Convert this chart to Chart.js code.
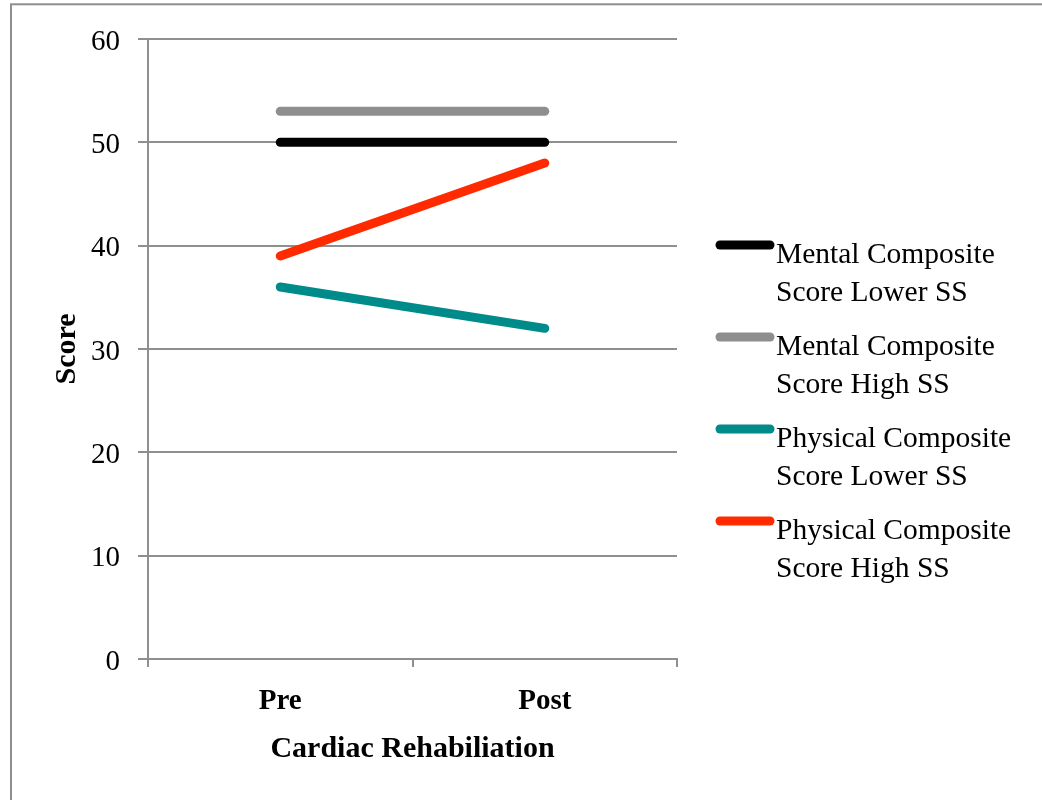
<!DOCTYPE html>
<html>
<head>
<meta charset="utf-8">
<script src="https://cdn.jsdelivr.net/npm/chart.js@4"></script>
<style>
  html, body { margin: 0; padding: 0; background: #fff; }
  #wrap { position: relative; width: 1042px; height: 800px; }
</style>
</head>
<body>
<div id="wrap"><canvas id="chart" width="1042" height="800"></canvas></div>
<script>
// Categories and score series
const categories = ['Pre', 'Post'];
const mentalLower = [50, 50];
const mentalHigh = [53, 53];
const physicalLower = [36, 32];
const physicalHigh = [39, 48];
const seriesLabels = [
  ['Mental Composite', 'Score Lower SS'],
  ['Mental Composite', 'Score High SS'],
  ['Physical Composite', 'Score Lower SS'],
  ['Physical Composite', 'Score High SS']
];
const seriesColors = ['#000000', '#8e8e8e', '#008b8b', '#ff2a00'];
const yTicks = [0, 10, 20, 30, 40, 50, 60];

const SERIF = '"Liberation Serif", "Times New Roman", serif';
const GRID = '#8f8f8f';

// Page frame and multi-line legend
const framePlugin = {
  id: 'frame',
  beforeDraw(chart) {
    const ctx = chart.ctx;
    ctx.save();
    ctx.fillStyle = '#fff';
    ctx.fillRect(0, 0, chart.width, chart.height);
    ctx.strokeStyle = GRID;
    ctx.lineWidth = 2;
    ctx.strokeRect(11, 4.3, chart.width + 20, chart.height + 20);
    ctx.restore();
  }
};

const legendPlugin = {
  id: 'multiLegend',
  afterDraw(chart) {
    const ctx = chart.ctx;
    const x0 = 720, x1 = 770, tx = 776;
    const startY = 245, step = 92, lineH = 38;
    ctx.save();
    chart.data.datasets.forEach((ds, i) => {
      const y = startY + i * step;
      ctx.beginPath();
      ctx.strokeStyle = ds.borderColor;
      ctx.lineWidth = 9;
      ctx.lineCap = 'round';
      ctx.moveTo(x0, y);
      ctx.lineTo(x1, y);
      ctx.stroke();
      ctx.fillStyle = '#000';
      ctx.font = '29.5px ' + SERIF;
      ctx.textBaseline = 'alphabetic';
      ctx.textAlign = 'left';
      ds.label.forEach((line, j) => {
        ctx.fillText(line, tx, y + 18 + j * lineH);
      });
    });
    ctx.restore();
  }
};

const makeDataset = (values, idx) => ({
  label: seriesLabels[idx],
  data: values,
  borderColor: seriesColors[idx],
  backgroundColor: seriesColors[idx],
  borderWidth: 9,
  borderCapStyle: 'round',
  pointRadius: 0,
  pointHoverRadius: 0,
  tension: 0,
  fill: false
});

new Chart(document.getElementById('chart'), {
  type: 'line',
  data: {
    labels: categories,
    datasets: [
      makeDataset(mentalLower, 0),
      makeDataset(mentalHigh, 1),
      makeDataset(physicalLower, 2),
      makeDataset(physicalHigh, 3)
    ]
  },
  options: {
    responsive: false,
    animation: false,
    devicePixelRatio: 1,
    layout: { padding: { top: 39, right: 365, left: 0, bottom: 0 } },
    plugins: { legend: { display: false }, tooltip: { enabled: false } },
    scales: {
      x: {
        type: 'category',
        offset: true,
        afterFit(scale) { scale.height = 141; },
        grid: {
          offset: true,
          drawOnChartArea: false,
          drawTicks: true,
          tickLength: 8,
          color: GRID,
          lineWidth: 2
        },
        border: { display: true, color: GRID, width: 2 },
        ticks: {
          color: '#000',
          padding: 17,
          font: { family: SERIF, size: 29, weight: 'bold' }
        },
        title: {
          display: true,
          text: 'Cardiac Rehabiliation',
          color: '#000',
          padding: { top: 0, bottom: 33 },
          font: { family: SERIF, size: 30, weight: 'bold' }
        }
      },
      y: {
        min: 0,
        max: 60,
        afterFit(scale) { scale.width = 148; },
        afterBuildTicks(scale) { scale.ticks = yTicks.map(v => ({ value: v })); },
        grid: {
          drawTicks: true,
          tickLength: 10,
          color: GRID,
          lineWidth: 2
        },
        border: { display: true, color: GRID, width: 2 },
        ticks: {
          color: '#000',
          padding: 18,
          labelOffset: 3,
          font: { family: SERIF, size: 29 }
        },
        title: {
          display: true,
          text: 'Score',
          color: '#000',
          padding: { top: 49, bottom: 0 },
          font: { family: SERIF, size: 30, weight: 'bold' }
        }
      }
    }
  },
  plugins: [framePlugin, legendPlugin]
});
</script>
</body>
</html>
